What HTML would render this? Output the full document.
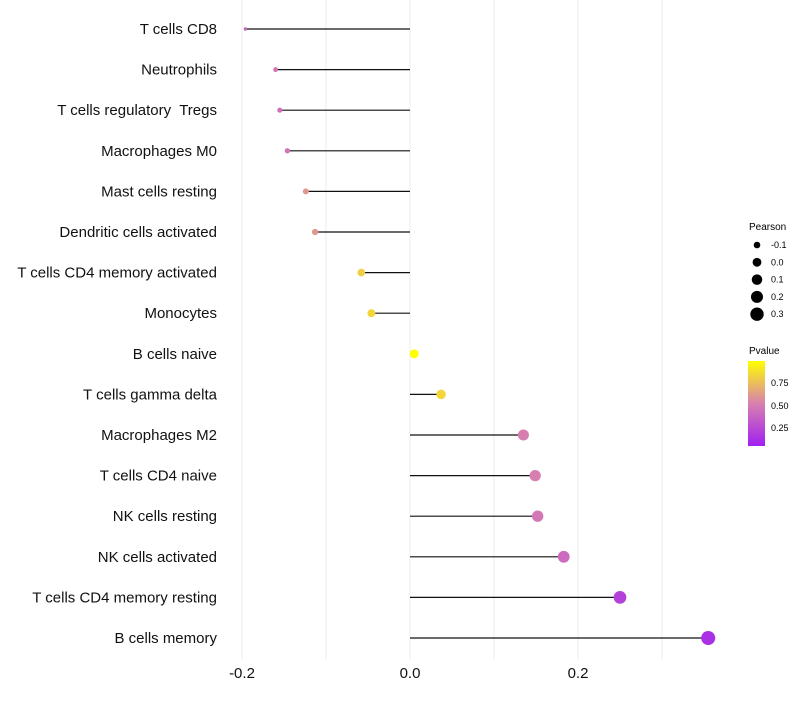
<!DOCTYPE html>
<html><head><meta charset="utf-8"><style>
body{margin:0;background:#fff;font-family:"Liberation Sans",sans-serif}
text{white-space:pre}
</style></head><body>
<svg id="chart" width="800" height="700" xmlns="http://www.w3.org/2000/svg" font-family="Liberation Sans, sans-serif">
<g id="grid"></g>
<g id="marks"></g>
<g id="labels"></g>
<g id="xt"></g>
<g font-size="9">
<text x="749" y="230" font-size="10">Pearson</text>
<g id="sizeleg"></g>
</g>
<g font-size="9">
<defs><linearGradient id="pg" x1="0" y1="1" x2="0" y2="0">
<stop offset="0" stop-color="#a020f0"/><stop offset="0.5" stop-color="#d880b0"/><stop offset="1" stop-color="#ffff00"/></linearGradient></defs>
<text x="749" y="354" font-size="10">Pvalue</text>
<rect x="748" y="361" width="17" height="85" fill="url(#pg)"/>
<text x="771" y="386">0.75</text><text x="771" y="409">0.50</text><text x="771" y="431">0.25</text>
</g>
</svg>
<script>
const categories=["T cells CD8","Neutrophils","T cells regulatory  Tregs","Macrophages M0","Mast cells resting","Dendritic cells activated","T cells CD4 memory activated","Monocytes","B cells naive","T cells gamma delta","Macrophages M2","T cells CD4 naive","NK cells resting","NK cells activated","T cells CD4 memory resting","B cells memory"];
const pearson=[-0.196,-0.160,-0.155,-0.146,-0.124,-0.113,-0.058,-0.046,0.005,0.037,0.135,0.149,0.152,0.183,0.250,0.355];
const pvalue=[0.38,0.45,0.43,0.45,0.6,0.6,0.8,0.83,0.98,0.83,0.5,0.5,0.47,0.4,0.2,0.12];
const xTicks=[-0.2,0.0,0.2];
const xTickLabels=["-0.2","0.0","0.2"];
const sizeLegend=[-0.1,0.0,0.1,0.2,0.3];
const NS="http://www.w3.org/2000/svg";
const X=v=>410+v*840;
const Y=i=>29+i*40.6;
const R=v=>Math.sqrt(Math.max(2.5,84.4*(v+0.23)));
function lerp(a,b,t){return a.map((x,k)=>Math.round(x+(b[k]-x)*t));}
function col(p){const t=Math.min(1,Math.max(0,(p-0.04)/0.94));const c0=[160,32,240],c1=[216,128,176],c2=[255,255,0];
const c=t<0.5?lerp(c0,c1,t/0.5):lerp(c1,c2,(t-0.5)/0.5);return `rgb(${c})`;}
function mk(tag,attrs,parent){const e=document.createElementNS(NS,tag);for(const k in attrs)e.setAttribute(k,attrs[k]);parent.appendChild(e);return e;}
const grid=document.getElementById('grid');
[-0.2,-0.1,0,0.1,0.2,0.3].forEach(v=>{const l=mk('line',{x1:X(v),x2:X(v),y1:0,y2:660,stroke:'#ececec','stroke-width':1},grid);

});
const marks=document.getElementById('marks'),labels=document.getElementById('labels');
categories.forEach((c,i)=>{
const l=mk('line',{x1:X(0),x2:X(pearson[i]),y1:Y(i),y2:Y(i),stroke:'#111','stroke-width':1.2},marks);


const d=mk('circle',{cx:X(pearson[i]),cy:Y(i),r:R(pearson[i]),fill:col(pvalue[i])},marks);


const t=mk('text',{x:217,y:Y(i)+5,'text-anchor':'end','font-size':15,fill:'#111'},labels);t.textContent=c;


});
const xt=document.getElementById('xt');
xTicks.forEach((v,i)=>{const t=mk('text',{x:X(v),y:678,'text-anchor':'middle','font-size':15,fill:'#111'},xt);t.textContent=xTickLabels[i];

});
const sl=document.getElementById('sizeleg');
sizeLegend.forEach((v,i)=>{const y=245+i*17.3;
const c=mk('circle',{cx:757,cy:y,r:R(v),fill:'#000'},sl);


const t=mk('text',{x:771,y:y+3,'font-size':9},sl);t.textContent=v.toFixed(1);

});
</script>
</body></html>
